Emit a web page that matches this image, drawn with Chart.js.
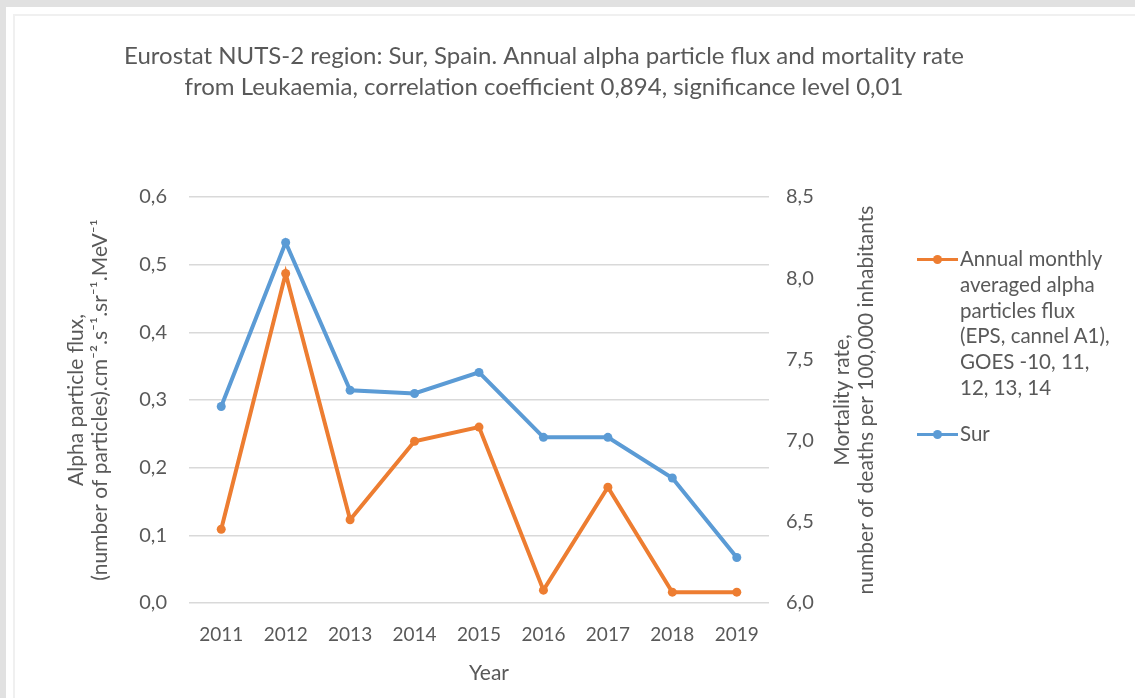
<!DOCTYPE html>
<html>
<head>
<meta charset="utf-8">
<script src="https://cdn.jsdelivr.net/npm/chart.js@4/dist/chart.umd.min.js"></script>
<style>
  html, body { margin: 0; padding: 0; }
  body { width: 1135px; height: 698px; background: #e1e1e1; position: relative; overflow: hidden; font-family: Lato, "Open Sans", sans-serif; }
  #card { position: absolute; left: 6px; top: 7px; right: 0; bottom: 0; background: #fff; }
  #inner { position: absolute; left: 13px; top: 14px; right: 0; bottom: 0; border-top: 2px solid #f0f0f0; border-left: 2px solid #f0f0f0; }
  #chart { position: absolute; left: 0; top: 0; }
  #legend { position: absolute; left: 917px; top: 246px; color: #595959; font-family: Lato, sans-serif; font-size: 20.5px; line-height: 25.8px; white-space: nowrap; }
  .item { position: relative; padding-left: 43px; }
  .mk { position: absolute; left: 0; top: 12px; width: 41px; height: 3px; }
  .mk::after { content: ""; position: absolute; left: 16px; top: -3px; width: 9px; height: 9px; border-radius: 50%; background: inherit; }
</style>
</head>
<body>
<div id="card"></div>
<div id="inner"></div>
<canvas id="chart" width="1135" height="698"></canvas>
<div id="legend"></div>
<script>
const titleLines = [
  "Eurostat NUTS-2 region: Sur, Spain. Annual alpha particle flux and mortality rate",
  "from Leukaemia, correlation coefficient 0,894, significance level 0,01"
];
const years = ["2011", "2012", "2013", "2014", "2015", "2016", "2017", "2018", "2019"];
const alphaFlux = [0.109, 0.487, 0.123, 0.239, 0.260, 0.019, 0.171, 0.016, 0.016];
const mortalitySur = [7.21, 8.22, 7.31, 7.29, 7.42, 7.02, 7.02, 6.77, 6.28];
const alphaLabelLines = ["Annual monthly", "averaged alpha", "particles flux", "(EPS, cannel A1),", "GOES -10, 11,", "12, 13, 14"];
const surLabel = "Sur";
const leftTitle = ["Alpha particle flux,", "(number of particles).cm\u207B\u00B2.s\u207B\u00B9.sr\u207B\u00B9.MeV\u207B\u00B9"];
const rightTitle = ["Mortality rate,", "number of deaths per 100,000 inhabitants"];
const xTitle = "Year";

const ORANGE = "#ED7D31", BLUE = "#5B9BD5", TXT = "#595959";
const FONT = "Lato";

// HTML legend
const legend = document.getElementById("legend");
legend.innerHTML =
  '<div class="item"><span class="mk" style="background:' + ORANGE + '"></span>' + alphaLabelLines.join("<br>") + '</div>' +
  '<div class="item" style="margin-top:20px"><span class="mk" style="background:' + BLUE + '"></span>' + surLabel + '</div>';

const fmt = v => Number(v).toFixed(1).replace(".", ",");

const textPlugin = {
  id: "texts",
  afterDraw(chart) {
    const ctx = chart.ctx;
    const ca = chart.chartArea;
    const cy = (ca.top + ca.bottom) / 2;
    ctx.save();
    ctx.fillStyle = TXT;
    ctx.textAlign = "center";
    ctx.textBaseline = "middle";
    ctx.font = "24px " + FONT;
    ctx.fillText(titleLines[0], 544, 56);
    ctx.fillText(titleLines[1], 544, 87);
    ctx.font = "21px " + FONT;
    ctx.fillText(xTitle, 489, 673);
    const rot = (txt, x) => {
      ctx.save();
      ctx.translate(x, cy);
      ctx.rotate(-Math.PI / 2);
      ctx.fillText(txt, 0, 0);
      ctx.restore();
    };
    rot(leftTitle[0], 76);
    rot(leftTitle[1], 100);
    rot(rightTitle[0], 842);
    rot(rightTitle[1], 866);
    ctx.restore();
  }
};

new Chart(document.getElementById("chart"), {
  type: "line",
  data: {
    labels: years,
    datasets: [
      {
        label: alphaLabelLines.join(" "),
        data: alphaFlux,
        yAxisID: "y",
        borderColor: ORANGE,
        backgroundColor: ORANGE,
        borderWidth: 4,
        pointRadius: 4.5,
        pointBorderWidth: 0,
        tension: 0,
        order: 2
      },
      {
        label: surLabel,
        data: mortalitySur,
        yAxisID: "y1",
        borderColor: BLUE,
        backgroundColor: BLUE,
        borderWidth: 4,
        pointRadius: 4.5,
        pointBorderWidth: 0,
        tension: 0,
        order: 1
      }
    ]
  },
  options: {
    responsive: false,
    animation: false,
    devicePixelRatio: 1,
    layout: { padding: { top: 197, left: 0, right: 0, bottom: 0 } },
    plugins: {
      legend: { display: false },
      title: { display: false },
      tooltip: { enabled: false }
    },
    scales: {
      x: {
        offset: true,
        grid: { display: false },
        border: { display: false },
        ticks: { color: TXT, font: { family: FONT, size: 19 }, padding: 12, maxRotation: 0 },
        afterFit(s) { s.height = 95; }
      },
      y: {
        position: "left",
        min: 0, max: 0.6,
        ticks: { stepSize: 0.1, color: TXT, font: { family: FONT, size: 20 }, padding: 22, callback: fmt },
        grid: { color: "#d9d9d9", lineWidth: 1.5, drawTicks: false },
        border: { display: false },
        afterFit(s) { s.width = 189; }
      },
      y1: {
        position: "right",
        min: 6, max: 8.5,
        ticks: { stepSize: 0.5, color: TXT, font: { family: FONT, size: 20 }, padding: 17, callback: fmt },
        grid: { display: false, drawTicks: false },
        border: { display: false },
        afterFit(s) { s.width = 366; }
      }
    }
  },
  plugins: [textPlugin]
});
</script>
</body>
</html>
